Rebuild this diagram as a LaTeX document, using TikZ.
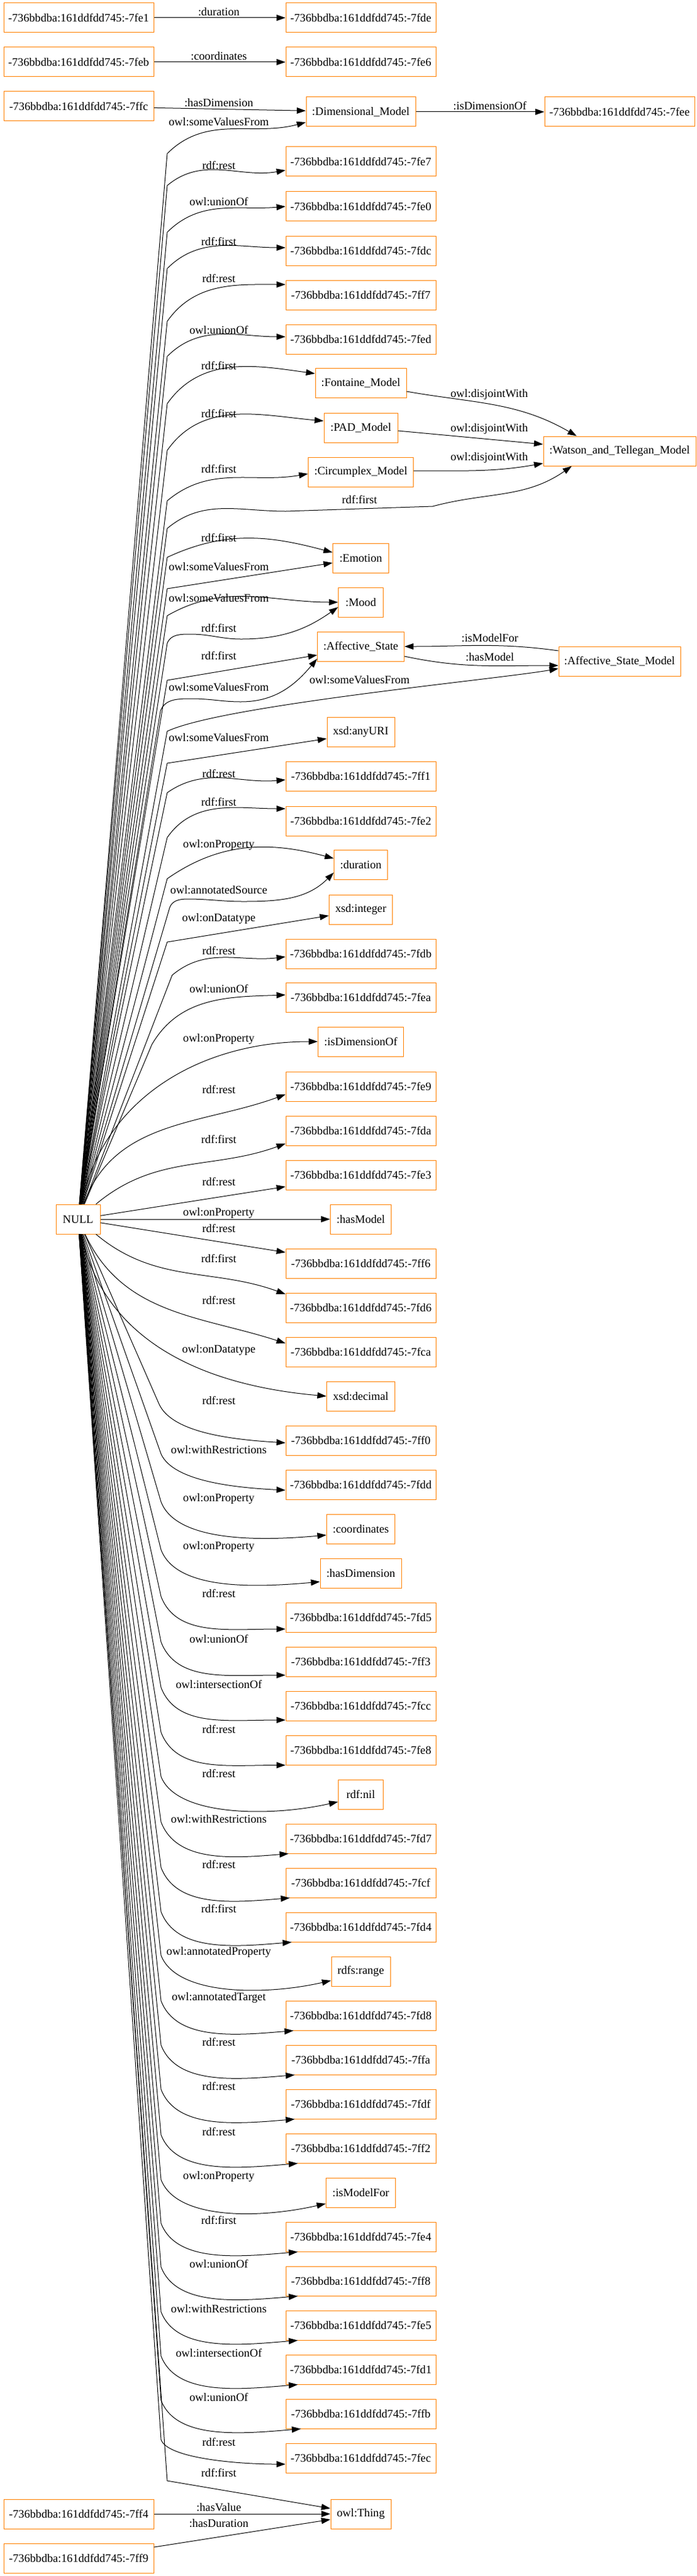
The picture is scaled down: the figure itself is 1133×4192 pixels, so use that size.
\documentclass[tikz,border=0pt]{standalone}
\usepackage{fontspec}
\setmainfont{Liberation Serif}
\usetikzlibrary{arrows.meta}

\begin{document}
\begin{tikzpicture}[x=0.75pt, y=0.75pt,
    box/.style={draw=orange, line width=0.75pt, minimum height=36pt, inner sep=2pt, font=\fontsize{14}{16}\selectfont},
    idbox/.style={box, minimum width=183pt},
    lbl/.style={inner sep=0pt, font=\fontsize{14}{16}\selectfont},
    edge/.style={-{Triangle[length=11pt,width=7.5pt]}, line width=0.75pt}]
      \useasboundingbox (0,0) rectangle (1133,-4192);
      % left column
      \node (n7fe1)[idbox] at (128,-29){-736bbdba:161ddfdd745:-7fe1};
      \node (n7feb)[idbox] at (128,-101){-736bbdba:161ddfdd745:-7feb};
      \node (n7ffc)[idbox] at (128,-173){-736bbdba:161ddfdd745:-7ffc};
      \node (null)[box, minimum width=54pt] at (127,-1984){NULL};
      \node (n7ff4)[idbox] at (128,-4091){-736bbdba:161ddfdd745:-7ff4};
      \node (n7ff9)[idbox] at (128,-4163){-736bbdba:161ddfdd745:-7ff9};
      % middle column
      \node (n7fde)[idbox] at (587,-29){-736bbdba:161ddfdd745:-7fde};
      \node (n7fe6)[idbox] at (587,-101){-736bbdba:161ddfdd745:-7fe6};
      \node (dim)[box, minimum width=133.5pt] at (587,-182){:Dimensional\_Model};
      \node (n7fe7)[idbox] at (587,-263){-736bbdba:161ddfdd745:-7fe7};
      \node (n7fe0)[idbox] at (587,-336){-736bbdba:161ddfdd745:-7fe0};
      \node (n7fdc)[idbox] at (587,-408){-736bbdba:161ddfdd745:-7fdc};
      \node (n7ff7)[idbox] at (587,-480){-736bbdba:161ddfdd745:-7ff7};
      \node (n7fed)[idbox] at (587,-552){-736bbdba:161ddfdd745:-7fed};
      \node (fontaine)[box, minimum width=111pt] at (587,-623){:Fontaine\_Model};
      \node (pad)[box, minimum width=90pt] at (587,-696){:PAD\_Model};
      \node (circumplex)[box, minimum width=128.25pt] at (587,-768){:Circumplex\_Model};
      \node (emotion)[box, minimum width=68.25pt] at (587,-908){:Emotion};
      \node (mood)[box, minimum width=54.75pt] at (587,-980){:Mood};
      \node (affstate)[box, minimum width=105.75pt] at (587,-1052){:Affective\_State};
      \node (anyuri)[box, minimum width=82.5pt] at (587,-1191){xsd:anyURI};
      \node (n7ff1)[idbox] at (587,-1263){-736bbdba:161ddfdd745:-7ff1};
      \node (n7fe2)[idbox] at (587,-1336){-736bbdba:161ddfdd745:-7fe2};
      \node (duration)[box, minimum width=65.25pt] at (587,-1407){:duration};
      \node (xint)[box, minimum width=77.25pt] at (587,-1480){xsd:integer};
      \node (n7fdb)[idbox] at (587,-1552){-736bbdba:161ddfdd745:-7fdb};
      \node (n7fea)[idbox] at (587,-1623){-736bbdba:161ddfdd745:-7fea};
      \node (isdim)[box, minimum width=104.25pt] at (587,-1695){:isDimensionOf};
      \node (n7fe9)[idbox] at (587,-1768){-736bbdba:161ddfdd745:-7fe9};
      \node (n7fda)[idbox] at (587,-1840){-736bbdba:161ddfdd745:-7fda};
      \node (n7fe3)[idbox] at (587,-1912){-736bbdba:161ddfdd745:-7fe3};
      \node (hasmodel)[box, minimum width=74.25pt] at (587,-1984){:hasModel};
      \node (n7ff6)[idbox] at (587,-2056){-736bbdba:161ddfdd745:-7ff6};
      \node (n7fd6)[idbox] at (587,-2128){-736bbdba:161ddfdd745:-7fd6};
      \node (n7fca)[idbox] at (587,-2200){-736bbdba:161ddfdd745:-7fca};
      \node (xdec)[box, minimum width=83.25pt] at (587,-2272){xsd:decimal};
      \node (n7ff0)[idbox] at (587,-2344){-736bbdba:161ddfdd745:-7ff0};
      \node (n7fdd)[idbox] at (587,-2416){-736bbdba:161ddfdd745:-7fdd};
      \node (coords)[box, minimum width=83.25pt] at (587,-2488){:coordinates};
      \node (hasdim)[box, minimum width=99pt] at (587,-2560){:hasDimension};
      \node (n7fd5)[idbox] at (587,-2632){-736bbdba:161ddfdd745:-7fd5};
      \node (n7ff3)[idbox] at (587,-2704){-736bbdba:161ddfdd745:-7ff3};
      \node (n7fcc)[idbox] at (587,-2776){-736bbdba:161ddfdd745:-7fcc};
      \node (n7fe8)[idbox] at (587,-2848){-736bbdba:161ddfdd745:-7fe8};
      \node (rdfnil)[box, minimum width=54.75pt] at (587,-2920){rdf:nil};
      \node (n7fd7)[idbox] at (587,-2992){-736bbdba:161ddfdd745:-7fd7};
      \node (n7fcf)[idbox] at (587,-3064){-736bbdba:161ddfdd745:-7fcf};
      \node (n7fd4)[idbox] at (587,-3136){-736bbdba:161ddfdd745:-7fd4};
      \node (range)[box, minimum width=72pt] at (587,-3208){rdfs:range};
      \node (n7fd8)[idbox] at (587,-3280){-736bbdba:161ddfdd745:-7fd8};
      \node (n7ffa)[idbox] at (587,-3352){-736bbdba:161ddfdd745:-7ffa};
      \node (n7fdf)[idbox] at (587,-3424){-736bbdba:161ddfdd745:-7fdf};
      \node (n7ff2)[idbox] at (587,-3496){-736bbdba:161ddfdd745:-7ff2};
      \node (ismodel)[box, minimum width=84.75pt] at (587,-3568){:isModelFor};
      \node (n7fe4)[idbox] at (587,-3640){-736bbdba:161ddfdd745:-7fe4};
      \node (n7ff8)[idbox] at (587,-3712){-736bbdba:161ddfdd745:-7ff8};
      \node (n7fe5)[idbox] at (587,-3784){-736bbdba:161ddfdd745:-7fe5};
      \node (n7fd1)[idbox] at (587,-3856){-736bbdba:161ddfdd745:-7fd1};
      \node (n7ffb)[idbox] at (587,-3928){-736bbdba:161ddfdd745:-7ffb};
      \node (n7fec)[idbox] at (587,-4000){-736bbdba:161ddfdd745:-7fec};
      \node (thing)[box, minimum width=73.5pt] at (587,-4091){owl:Thing};
      % right column
      \node (n7fee)[idbox] at (1008,-182){-736bbdba:161ddfdd745:-7fee};
      \node (watson)[box, minimum width=186pt] at (1008,-734){:Watson\_and\_Tellegan\_Model};
      \node (asm)[box, minimum width=148.5pt] at (1008,-1076){:Affective\_State\_Model};
      % edge labels
      \node (lDur)[lbl] at (356,-19){:duration};
      \node (lCoo)[lbl] at (356,-91){:coordinates};
      \node (lHasDim)[lbl] at (356,-167){:hasDimension};
      \node (lIsDim)[lbl] at (797,-172){:isDimensionOf};
      \node (lDis1)[lbl] at (796,-642){owl:disjointWith};
      \node (lDis2)[lbl] at (796,-698){owl:disjointWith};
      \node (lDis3)[lbl] at (796,-745){owl:disjointWith};
      \node (lIsMod)[lbl] at (797,-1038){:isModelFor};
      \node (lHasMod)[lbl] at (797,-1069){:hasModel};
      \node (lVal)[lbl] at (356,-4080){:hasValue};
      \node (lHasDur)[lbl] at (356,-4106){:hasDuration};
      \node (lDim)[lbl] at (356,-198){owl:someValuesFrom};
      \node (l7fe7)[lbl] at (356,-269){rdf:rest};
      \node (l7fe0)[lbl] at (356,-328){owl:unionOf};
      \node (l7fdc)[lbl] at (356,-393){rdf:first};
      \node (l7ff7)[lbl] at (356,-453){rdf:rest};
      \node (l7fed)[lbl] at (356,-537){owl:unionOf};
      \node (lFon)[lbl] at (356,-595){rdf:first};
      \node (lPad)[lbl] at (356,-673){rdf:first};
      \node (lCirc)[lbl] at (356,-763){rdf:first};
      \node (lWat)[lbl] at (585,-813){rdf:first};
      \node (lEmoA)[lbl] at (356,-875){rdf:first};
      \node (lEmoB)[lbl] at (356,-922){owl:someValuesFrom};
      \node (lMooA)[lbl] at (356,-973){owl:someValuesFrom};
      \node (lMooB)[lbl] at (356,-1022){rdf:first};
      \node (lAffA)[lbl] at (356,-1067){rdf:first};
      \node (lAffB)[lbl] at (356,-1118){owl:someValuesFrom};
      \node (lAsm)[lbl] at (585,-1106){owl:someValuesFrom};
      \node (lUri)[lbl] at (356,-1200){owl:someValuesFrom};
      \node (l7ff1)[lbl] at (356,-1259){rdf:rest};
      \node (l7fe2)[lbl] at (356,-1305){rdf:first};
      \node (lDurA)[lbl] at (356,-1375){owl:onProperty};
      \node (lDurB)[lbl] at (356,-1448){owl:annotatedSource};
      \node (lInt)[lbl] at (356,-1495){owl:onDatatype};
      \node (l7fdb)[lbl] at (356,-1547){rdf:rest};
      \node (l7fea)[lbl] at (356,-1609){owl:unionOf};
      \node (lIsd)[lbl] at (356,-1691){owl:onProperty};
      \node (l7fe9)[lbl] at (356,-1773){rdf:rest};
      \node (l7fda)[lbl] at (356,-1854){rdf:first};
      \node (l7fe3)[lbl] at (356,-1923){rdf:rest};
      \node (lHasModel)[lbl] at (356,-1974){owl:onProperty};
      \node (l7ff6)[lbl] at (356,-1999){rdf:rest};
      \node (l7fd6)[lbl] at (356,-2048){rdf:first};
      \node (l7fca)[lbl] at (356,-2116){rdf:rest};
      \node (lDec)[lbl] at (356,-2197){owl:onDatatype};
      \node (l7ff0)[lbl] at (356,-2279){rdf:rest};
      \node (l7fdd)[lbl] at (356,-2359){owl:withRestrictions};
      \node (lCoords)[lbl] at (356,-2439){owl:onProperty};
      \node (lHasdim)[lbl] at (356,-2517){owl:onProperty};
      \node (l7fd5)[lbl] at (356,-2593){rdf:rest};
      \node (l7ff3)[lbl] at (356,-2667){owl:unionOf};
      \node (l7fcc)[lbl] at (356,-2741){owl:intersectionOf};
      \node (l7fe8)[lbl] at (356,-2814){rdf:rest};
      \node (lNil)[lbl] at (356,-2886){rdf:rest};
      \node (l7fd7)[lbl] at (356,-2960){owl:withRestrictions};
      \node (l7fcf)[lbl] at (356,-3034){rdf:rest};
      \node (l7fd4)[lbl] at (356,-3106){rdf:first};
      \node (lRange)[lbl] at (356,-3177){owl:annotatedProperty};
      \node (l7fd8)[lbl] at (356,-3251){owl:annotatedTarget};
      \node (l7ffa)[lbl] at (356,-3323){rdf:rest};
      \node (l7fdf)[lbl] at (356,-3395){rdf:rest};
      \node (l7ff2)[lbl] at (356,-3469){rdf:rest};
      \node (lIsmodel)[lbl] at (356,-3542){owl:onProperty};
      \node (l7fe4)[lbl] at (356,-3613){rdf:first};
      \node (l7ff8)[lbl] at (356,-3684){owl:unionOf};
      \node (l7fe5)[lbl] at (356,-3757){owl:withRestrictions};
      \node (l7fd1)[lbl] at (356,-3829){owl:intersectionOf};
      \node (l7ffb)[lbl] at (356,-3901){owl:unionOf};
      \node (l7fec)[lbl] at (356,-3974){rdf:rest};
      \node (lThing)[lbl] at (356,-4024){rdf:first};
      % plain edges
      \draw [edge](n7fe1)--(n7fde);
      \draw [edge](n7feb)--(n7fe6);
      \draw [edge](n7ffc)--(dim);
      \draw [edge](dim)--(n7fee);
      \draw [edge]([yshift=-10.5pt]fontaine.east) to[out=-10,in=150] ([xshift=41pt]watson.north west);
      \draw [edge]([yshift=-3.75pt]pad.east)--([yshift=8.25pt]watson.west);
      \draw [edge]([yshift=1.5pt]circumplex.east) to[out=0,in=190] ([yshift=-15pt]watson.west);
      \draw [edge]([yshift=12.75pt]asm.west) to[out=172,in=0] (affstate.east);
      \draw [edge]([yshift=-12pt]affstate.east) to[out=-12,in=180] ([yshift=-5.25pt]asm.west);
      \draw [edge](n7ff4)--(thing);
      \draw [edge]([yshift=13.5pt]n7ff9.east)--([yshift=-6.75pt]thing.west);
      % edges from NULL, upwards
      \draw [edge](null)--(272,-250) to[out=45,in=195] ([yshift=-12.75pt]dim.west);
      \draw [edge](null)--(272,-302) to[out=40,in=190] ([yshift=-10.5pt]n7fe7.west);
      \draw [edge](null)--(272,-378) to[out=45,in=185] (n7fe0.west);
      \draw [edge](null)--(272,-437) to[out=45,in=180] ([yshift=3.75pt]n7fdc.west);
      \draw [edge](null)--(272,-523) to[out=55,in=180] ([yshift=12.75pt]n7ff7.west);
      \draw [edge](null)--(272,-580) to[out=45,in=180] ([yshift=3pt]n7fed.west);
      \draw [edge](null)--(272,-657) to[out=55,in=172] ([yshift=11.25pt]fontaine.west);
      \draw [edge](null)--(272,-733) to[out=55,in=175] ([yshift=8.25pt]pad.west);
      \draw [edge](null)--(272,-815) to[out=40,in=190] ([yshift=-2.25pt]circumplex.west);
      \draw [edge](null)--(272,-860) to[out=40,in=180] (465,-832)--(704,-824) to[out=15,in=215] ([xshift=35pt]watson.south west);
      \draw [edge](null)--(272,-907) to[out=25,in=165] ([yshift=6.75pt]emotion.west);
      \draw [edge](null)--(272,-958)--([yshift=-6pt]emotion.west);
      \draw [edge](null)--(272,-1002) to[out=30,in=180] (mood.west);
      \draw [edge](null)--(272,-1047) to[out=70,in=180] (310,-1032) to[out=0,in=180] (392,-1040) to[out=0,in=215] ([yshift=-6pt]mood.west);
      \draw [edge](null)--(272,-1107)--([yshift=-10.5pt]affstate.west);
      \draw [edge](null)--(261,-1157) to[out=70,in=180] (312,-1137) to[out=0,in=180] (392,-1142) to[out=0,in=230] ([yshift=-15pt]affstate.west);
      \draw [edge](null)--(272,-1190) to[out=25,in=190,looseness=0.4] ([yshift=-9pt]asm.west);
      \draw [edge](null)--(272,-1242)--([yshift=-8.25pt]anyuri.west);
      \draw [edge](null)--(272,-1290) to[out=35,in=185] ([yshift=-4.5pt]n7ff1.west);
      \draw [edge](null)--(272,-1363) to[out=55,in=180] ([yshift=15pt]n7fe2.west);
      \draw [edge](null)--(272,-1430) to[out=35,in=165] ([yshift=7.5pt]duration.west);
      \draw [edge](null)--(276,-1477) to[out=70,in=180] (305,-1463) to[out=0,in=180] (396,-1467) to[out=0,in=225] ([yshift=-9.75pt]duration.west);
      \draw [edge](null)--(272,-1533)--([yshift=-7.5pt]xint.west);
      \draw [edge](null)--(280,-1587) to[out=40,in=187] ([yshift=-3.75pt]n7fdb.west);
      \draw [edge](null)--(247,-1700) to[out=60,in=182] ([yshift=3pt]n7fea.west);
      \draw [edge](null) to[out=78,in=180] (isdim.west);
      \draw [edge](null) to[out=70,in=200] ([yshift=-9.75pt]n7fe9.west);
      \draw [edge](null) to[out=40,in=200] ([yshift=-15.75pt]n7fda.west);
      \draw [edge](null)--([yshift=-14.25pt]n7fe3.west);
      \draw [edge](null)--(hasmodel);
      % edges from NULL, downwards
      \draw [edge](null)--([yshift=13.5pt]n7ff6.west);
      \draw [edge](null) to[out=-40,in=160] ([yshift=16.5pt]n7fd6.west);
      \draw [edge](null) to[out=-65,in=162] ([yshift=10.5pt]n7fca.west);
      \draw [edge](null) to[out=-78,in=175] (xdec.west);
      \draw [edge](null)--(258,-2283) .. controls +(20,-50) and +(-80,5) .. ([yshift=-3pt]n7ff0.west);
      \draw [edge](null)--(262,-2366) .. controls +(20,-45) and +(-80,4) .. ([yshift=-6.75pt]n7fdd.west);
      \draw [edge](null)--(262,-2444) .. controls +(25,-65) and +(-110,-10) .. ([yshift=-7.5pt]coords.west);
      \draw [edge](null)--(262,-2522) .. controls +(25,-65) and +(-110,-10) .. ([yshift=-10.5pt]hasdim.west);
      \draw [edge](null)--(262,-2598) .. controls +(25,-65) and +(-95,0) .. ([yshift=-14.25pt]n7fd5.west);
      \draw [edge](null)--(262,-2672) .. controls +(25,-65) and +(-95,0) .. ([yshift=-16.5pt]n7ff3.west);
      \draw [edge](null)--(262,-2746) .. controls +(25,-65) and +(-95,0) .. ([yshift=-17.25pt]n7fcc.west);
      \draw [edge](null)--(262,-2819) .. controls +(25,-65) and +(-95,0) .. (n7fe8.south west);
      \draw [edge](null)--(262,-2891) .. controls +(25,-65) and +(-110,-25) .. ([yshift=-9pt]rdfnil.west);
      \draw [edge](null)--(262,-2965) .. controls +(25,-65) and +(-95,-8) .. ([xshift=3.75pt]n7fd7.south west);
      \draw [edge](null)--(262,-3039) .. controls +(25,-65) and +(-95,-8) .. ([xshift=5.25pt]n7fcf.south west);
      \draw [edge](null)--(262,-3111) .. controls +(25,-65) and +(-95,-8) .. ([xshift=7.5pt]n7fd4.south west);
      \draw [edge](null)--(262,-3182) .. controls +(25,-65) and +(-110,-25) .. ([yshift=-11.25pt]range.west);
      \draw [edge](null)--(262,-3256) .. controls +(25,-65) and +(-95,-8) .. ([xshift=9.75pt]n7fd8.south west);
      \draw [edge](null)--(262,-3328) .. controls +(25,-65) and +(-95,-8) .. ([xshift=11.25pt]n7ffa.south west);
      \draw [edge](null)--(262,-3400) .. controls +(25,-65) and +(-95,-8) .. ([xshift=11.25pt]n7fdf.south west);
      \draw [edge](null)--(262,-3474) .. controls +(25,-65) and +(-95,-8) .. ([xshift=15pt]n7ff2.south west);
      \draw [edge](null)--(262,-3547) .. controls +(25,-65) and +(-110,-25) .. ([yshift=-13.5pt]ismodel.west);
      \draw [edge](null)--(262,-3618) .. controls +(25,-65) and +(-95,-8) .. ([xshift=15pt]n7fe4.south west);
      \draw [edge](null)--(262,-3689) .. controls +(25,-65) and +(-95,-8) .. ([xshift=15pt]n7ff8.south west);
      \draw [edge](null)--(262,-3762) .. controls +(25,-65) and +(-95,-8) .. ([xshift=15pt]n7fe5.south west);
      \draw [edge](null)--(262,-3834) .. controls +(25,-65) and +(-95,-8) .. ([xshift=15pt]n7fd1.south west);
      \draw [edge](null)--(262,-3906) .. controls +(25,-65) and +(-95,-8) .. ([xshift=18.75pt]n7ffb.south west);
      \draw [edge](null)--(262,-3970) .. controls +(10,-30) and +(-80,0) .. ([yshift=-7.5pt]n7fec.west);
      \draw [edge](null)--(272,-4037)--([yshift=6.75pt]thing.west);
    \end{tikzpicture}
\end{document}
